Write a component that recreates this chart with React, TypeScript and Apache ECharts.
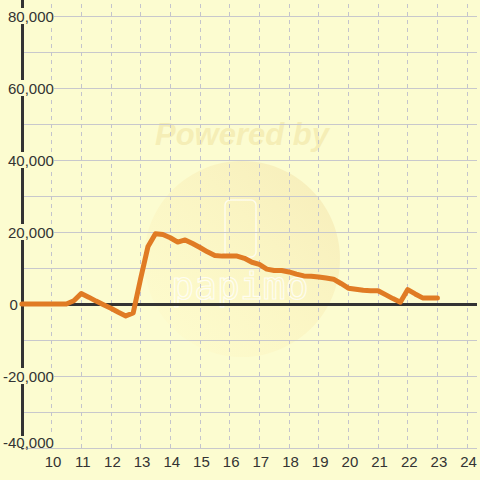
import React, { useEffect, useRef } from 'react';
import * as echarts from 'echarts';

const hours = [
  9, 9.25, 9.5, 9.75, 10, 10.25, 10.5, 10.75,
  11, 11.25, 11.5, 11.75, 12, 12.25, 12.5, 12.75,
  13, 13.25, 13.5, 13.75, 14, 14.25, 14.5, 14.75,
  15, 15.25, 15.5, 15.75, 16, 16.25, 16.5, 16.75,
  17, 17.25, 17.5, 17.75, 18, 18.25, 18.5, 18.75,
  19, 19.25, 19.5, 19.75, 20, 20.25, 20.5, 20.75,
  21, 21.25, 21.5, 21.75, 22, 22.25, 22.5, 22.75,
  23,
];

const values = [
  0, 0, 0, 0, 0, 0, 0, 900,
  2900, 1900, 800, -200, -1200, -2300, -3300, -2500,
  7000, 16000, 19500, 19300, 18400, 17200, 17800, 16800,
  15700, 14500, 13500, 13300, 13300, 13300, 12700, 11600,
  11000, 9700, 9300, 9300, 8900, 8300, 7800, 7700,
  7500, 7200, 6900, 5700, 4400, 4100, 3800, 3700,
  3700, 2600, 1500, 500, 4000, 2800, 1700, 1700,
  1700,
];

const xTicks = [10, 11, 12, 13, 14, 15, 16, 17, 18, 19, 20, 21, 22, 23, 24];

const X_MIN = 9;
const X_MAX = 24 + 1 / 3;
const Y_MIN = -40000;
const Y_TOP_LABEL = 80000;
const Y_MAX = 80000 + 40000 / 9;
const Y_STEP = 10000;
const Y_LABEL_STEP = 20000;

const BG = '#FCFCD0';
const FONT = 'Liberation Sans';
const GRID_COLOR = '#C8C8CC';

const fmt = (v: number) => v.toLocaleString('en-US');

export default function App() {
  const ref = useRef<HTMLDivElement>(null);

  useEffect(() => {
    if (!ref.current) return;
    const chart = echarts.init(ref.current, undefined, { renderer: 'svg' });
    const hidden = {
      axisLine: { show: false },
      axisTick: { show: false },
      splitLine: { show: false },
      splitArea: { show: false },
    };
    const nLines = (Y_TOP_LABEL - Y_MIN) / Y_STEP + 1;
    const splitColors = [
      ...Array.from({ length: nLines }, () => GRID_COLOR),
      'rgba(0,0,0,0)',
    ];
    const yExtra = (formatter: (v: number) => string, label: any) => ({
      type: 'value',
      position: 'left',
      offset: 0,
      min: Y_MIN,
      max: Y_MAX,
      interval: Y_STEP,
      ...hidden,
      axisLabel: {
        fontSize: 15,
        fontFamily: FONT,
        color: '#333',
        ...label,
        formatter,
      },
    });
    const option: any = {
      animation: false,
      backgroundColor: BG,
      grid: { left: 20, right: 0, top: 0, bottom: 32 },
      graphic: [
        {
          type: 'circle',
          z: -1,
          shape: { cx: 242, cy: 259, r: 98 },
          style: {
            fill: new echarts.graphic.LinearGradient(1, 0, 0, 1, [
              { offset: 0, color: 'rgba(242,226,170,0.6)' },
              { offset: 0.5, color: 'rgba(250,240,185,0.5)' },
              { offset: 1, color: 'rgba(255,252,205,0.45)' },
            ]),
          },
        },
        {
          type: 'text',
          z: -1,
          x: 242,
          y: 134,
          style: {
            text: 'Powered by',
            fill: 'rgba(240,226,160,0.55)',
            font: 'italic bold 31px "Liberation Sans"',
            align: 'center',
            verticalAlign: 'middle',
          },
        },
        {
          type: 'rect',
          z: -1,
          shape: { x: 225, y: 200, width: 31, height: 57, r: 5 },
          style: { fill: 'none', stroke: 'rgba(255,255,255,0.7)', lineWidth: 1.5 },
        },
        {
          type: 'text',
          z: -1,
          x: 240,
          y: 286,
          style: {
            text: 'papimo',
            fill: 'rgba(255,255,255,0)',
            stroke: 'rgba(255,255,255,0.75)',
            lineWidth: 1.2,
            font: '38px "DejaVu Sans Mono"',
            align: 'center',
            verticalAlign: 'middle',
          },
        },
      ],
      xAxis: {
        type: 'value',
        min: X_MIN,
        max: X_MAX,
        interval: 1,
        axisLine: { show: false },
        axisTick: { show: false },
        splitLine: { show: false },
        minorSplitLine: { show: false },
        axisLabel: {
          fontSize: 15,
          fontFamily: FONT,
          color: '#333',
          margin: 6,
          padding: [0, 0, 0, 3],
          formatter: (v: number) =>
            v >= 10 && Number.isInteger(v) ? String(v) : '',
        },
      },
      yAxis: [
        {
          type: 'value',
          position: 'left',
          offset: 0,
          min: Y_MIN,
          max: Y_MAX,
          interval: Y_STEP,
          axisLine: { show: true, onZero: false, lineStyle: { color: '#333', width: 3 } },
          axisTick: { show: false },
          splitLine: { show: true, lineStyle: { color: splitColors, width: 1 } },
          axisLabel: {
            fontSize: 15,
            fontFamily: FONT,
            color: '#333',
            inside: true,
            margin: 32,
            align: 'right',
            backgroundColor: BG,
            lineHeight: 16,
            formatter: (v: number) =>
              v % Y_LABEL_STEP === 0 && v !== 0 && v !== Y_MIN && v <= Y_TOP_LABEL
                ? fmt(v)
                : '',
          },
        },
        yExtra((v: number) => (v === 0 ? fmt(v) : ''), {
          margin: 4,
          align: 'right',
        }),
        yExtra((v: number) => (v === Y_MIN ? fmt(v) : ''), {
          inside: true,
          margin: 32,
          align: 'right',
          verticalAlign: 'bottom',
          backgroundColor: BG,
          lineHeight: 12,
        }),
      ],
      series: [
        {
          type: 'line',
          data: [],
          z: 0,
          markLine: {
            z: 0,
            silent: true,
            symbol: 'none',
            label: { show: false },
            lineStyle: { color: '#C4C4CC', width: 1, type: [4, 4] },
            data: xTicks.map((h) => ({ xAxis: h })),
          },
        },
        {
          type: 'line',
          data: [],
          z: 1,
          markLine: {
            z: 1,
            silent: true,
            symbol: 'none',
            label: { show: false },
            lineStyle: { color: '#333', width: 3, type: 'solid' },
            data: [{ yAxis: 0 }],
          },
        },
        {
          type: 'line',
          z: 3,
          clip: false,
          symbol: 'none',
          showSymbol: false,
          lineStyle: { color: '#E07B24', width: 5, join: 'round', cap: 'round' },
          data: hours.map((h, i) => [h, values[i]]),
        },
      ],
    };
    chart.setOption(option);
    return () => chart.dispose();
  }, []);

  return (
    <div
      ref={ref}
      style={{ position: 'fixed', left: 0, top: 0, width: 480, height: 480 }}
    />
  );
}
